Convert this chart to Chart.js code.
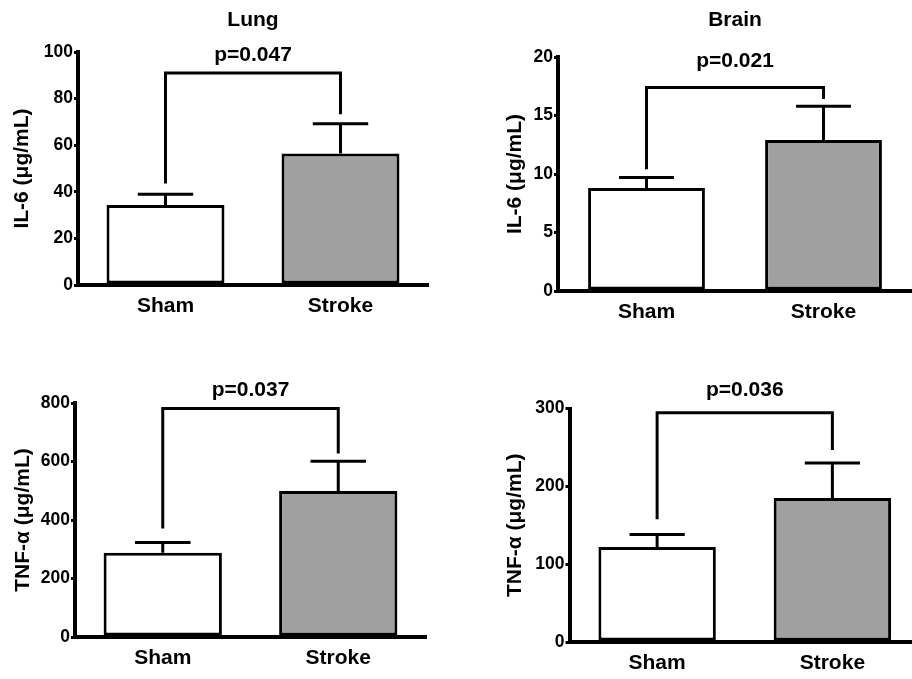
<!DOCTYPE html>
<html>
<head>
<meta charset="utf-8">
<script src="https://cdn.jsdelivr.net/npm/chart.js@4.4.0/dist/chart.umd.min.js"></script>
<style>
  html, body { margin: 0; padding: 0; background: #fff; overflow: hidden; }
  body { width: 912px; height: 679px; position: relative; }
  canvas { position: absolute; }
</style>
</head>
<body>
<canvas id="lungIL6" style="left:0;top:0" width="456" height="340"></canvas>
<canvas id="brainIL6" style="left:456px;top:0" width="456" height="340"></canvas>
<canvas id="lungTNF" style="left:0;top:340px" width="456" height="339"></canvas>
<canvas id="brainTNF" style="left:456px;top:340px" width="464" height="339"></canvas>
<script>
const categories = ["Sham", "Stroke"];

// means and SEM
const lungIL6 = [34.3, 56.4];
const lungIL6Sem = [4.7, 12.8];
const brainIL6 = [8.8, 12.9];
const brainIL6Sem = [0.9, 2.9];
const lungTNF = [288, 499];
const lungTNFSem = [35, 102];
const brainTNF = [122, 185];
const brainTNFSem = [16, 45];

// bracket: [bar level, left leg end, right leg end]
const lungIL6Bracket = [91, 43.6, 73.3];
const brainIL6Bracket = [17.4, 10.4, 16.4];
const lungTNFBracket = [781, 371, 627];
const brainTNFBracket = [294.6, 157.8, 246.7];

const pLabels = ["p=0.047", "p=0.021", "p=0.037", "p=0.036"];
const yMax = [100, 20, 800, 300];
const yStep = [20, 5, 200, 100];

const FONT = "'Liberation Sans', Arial, sans-serif";
Chart.defaults.font.family = FONT;
Chart.defaults.color = "#000";

// error bars (upper only), significance bracket, p label and panel title
const bracketPlugin = {
  id: "sigBracket",
  afterDatasetsDraw(chart, args, opts) {
    const { ctx, chartArea } = chart;
    const y = chart.scales.y;
    const bars = chart.getDatasetMeta(0).data;
    ctx.save();
    ctx.strokeStyle = "#000";
    ctx.lineWidth = 3;
    ctx.lineCap = "butt";
    ctx.lineJoin = "miter";

    bars.forEach((bar, i) => {
      const top = y.getPixelForValue(opts.means[i] + opts.sems[i]);
      const half = bar.width * 0.235;
      ctx.beginPath();
      ctx.moveTo(bar.x, bar.y);
      ctx.lineTo(bar.x, top);
      ctx.moveTo(bar.x - half, top);
      ctx.lineTo(bar.x + half, top);
      ctx.stroke();
    });

    const level = y.getPixelForValue(opts.bracket[0]);
    ctx.beginPath();
    ctx.moveTo(bars[0].x, y.getPixelForValue(opts.bracket[1]));
    ctx.lineTo(bars[0].x, level);
    ctx.lineTo(bars[1].x, level);
    ctx.lineTo(bars[1].x, y.getPixelForValue(opts.bracket[2]));
    ctx.stroke();

    ctx.fillStyle = "#000";
    ctx.textAlign = "center";
    ctx.textBaseline = "middle";
    ctx.font = "bold 21px " + FONT;
    ctx.fillText(opts.pLabel, (bars[0].x + bars[1].x) / 2, level - opts.pOffset);
    if (opts.title) {
      ctx.fillText(opts.title, (chartArea.left + chartArea.right) / 2, 20);
    }
    ctx.restore();
  }
};

function makeChart(id, c) {
  return new Chart(document.getElementById(id), {
    type: "bar",
    data: {
      labels: categories,
      datasets: [{
        data: c.values,
        backgroundColor: ["#ffffff", "#a0a0a0"],
        borderColor: "#000",
        borderWidth: 3,
        borderSkipped: false,
        barPercentage: c.barPct,
        categoryPercentage: 1
      }]
    },
    options: {
      responsive: false,
      animation: false,
      layout: { padding: { top: c.top, right: c.right, left: 0, bottom: 0 } },
      plugins: {
        legend: { display: false },
        tooltip: { enabled: false },
        sigBracket: {
          means: c.values, sems: c.sems, bracket: c.bracket,
          pLabel: c.pLabel, pOffset: c.pOffset, title: c.title
        }
      },
      scales: {
        x: {
          grid: { display: false, drawTicks: false },
          border: { color: "#000", width: 4 },
          ticks: { color: "#000", padding: 9, font: { size: 21, weight: "bold" } },
          afterFit: s => { s.height = c.xHeight; }
        },
        y: {
          min: 0,
          max: c.max,
          ticks: { stepSize: c.step, color: "#000", padding: 1, font: { size: 17.5, weight: "bold" } },
          grid: { drawOnChartArea: false, tickLength: 4, color: "#000", lineWidth: 3 },
          border: { color: "#000", width: 4 },
          title: {
            display: true, text: c.yTitle, color: "#000",
            font: { size: 21, weight: "bold" },
            padding: { top: c.yTitlePad, bottom: 0 }
          },
          afterFit: s => { s.width = c.yWidth; }
        }
      }
    },
    plugins: [bracketPlugin]
  });
}

makeChart("lungIL6", {
  values: lungIL6, sems: lungIL6Sem, bracket: lungIL6Bracket, pLabel: pLabels[0],
  max: yMax[0], step: yStep[0], yTitle: "IL-6 (\u03bcg/mL)", title: "Lung",
  top: 52, right: 28, yWidth: 78, xHeight: 55, barPct: 0.674, yTitlePad: 10, pOffset: 18
});
makeChart("brainIL6", {
  values: brainIL6, sems: brainIL6Sem, bracket: brainIL6Bracket, pLabel: pLabels[1],
  max: yMax[1], step: yStep[1], yTitle: "IL-6 (\u03bcg/mL)", title: "Brain",
  top: 57, right: 0, yWidth: 102, xHeight: 49, barPct: 0.66, yTitlePad: 46.5, pOffset: 26
});
makeChart("lungTNF", {
  values: lungTNF, sems: lungTNFSem, bracket: lungTNFBracket, pLabel: pLabels[2],
  max: yMax[2], step: yStep[2], yTitle: "TNF-\u03b1 (\u03bcg/mL)", title: "",
  top: 63, right: 30, yWidth: 75, xHeight: 42, barPct: 0.674, yTitlePad: 10.7, pOffset: 18
});
makeChart("brainTNF", {
  values: brainTNF, sems: brainTNFSem, bracket: brainTNFBracket, pLabel: pLabels[3],
  max: yMax[3], step: yStep[3], yTitle: "TNF-\u03b1 (\u03bcg/mL)", title: "",
  top: 68.5, right: 0, yWidth: 113.5, xHeight: 37, barPct: 0.67, yTitlePad: 46.6, pOffset: 22.5
});
</script>
</body>
</html>
